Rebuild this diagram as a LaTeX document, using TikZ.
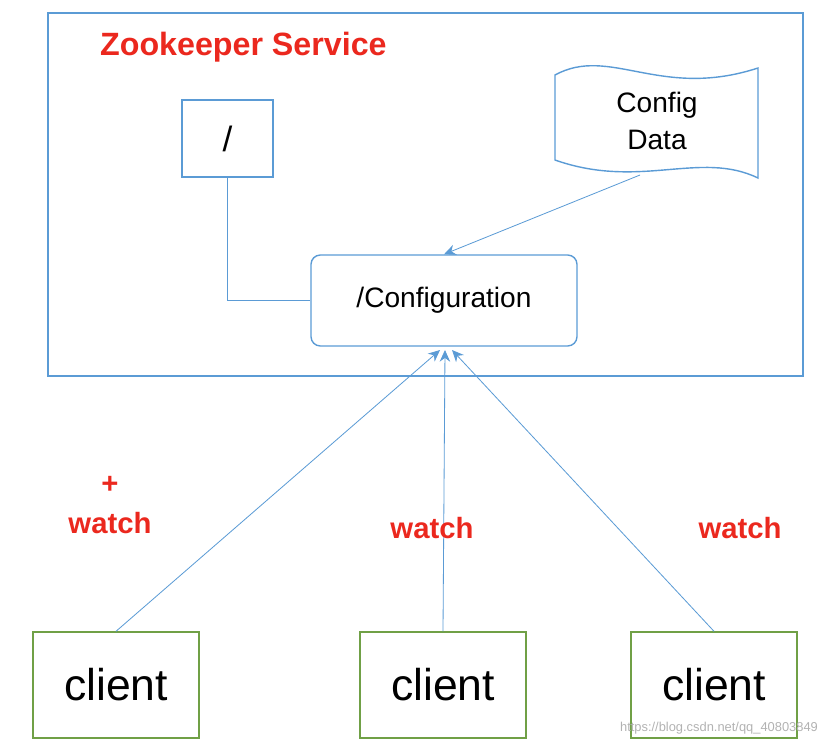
\documentclass[tikz,border=0pt]{standalone}
\usepackage{fontspec}
\setmainfont{Liberation Sans}
\usetikzlibrary{positioning, arrows.meta}
\definecolor{zkblue}{RGB}{91,155,213}
\definecolor{zkred}{RGB}{235,40,30}
\definecolor{zkgreen}{RGB}{112,160,70}
\tikzset{
  box/.style={draw=zkblue, line width=1.2pt, inner sep=0pt},
  cbox/.style={draw=zkgreen, line width=1.2pt, minimum width=166*0.03cm, minimum height=106*0.03cm, font=\fontsize{38}{44}\selectfont},
  lbl/.style={text=zkred, font=\bfseries\fontsize{25}{30}\selectfont},
  link/.style={draw=zkblue, line width=0.7pt},
}
\begin{document}
\begin{tikzpicture}[x=0.03cm, y=-0.03cm]
\useasboundingbox (0,0) rectangle (830,747);
\draw[zkblue, line width=1.2pt] (48,13) rectangle (803,376);
\node[lbl, anchor=west, font=\bfseries\fontsize{27.5}{32}\selectfont] (title) at (96,47) {Zookeeper Service};

\node[box, minimum width=91*0.03cm, minimum height=77*0.03cm, font=\fontsize{30}{36}\selectfont] (root) at (227.5,138.5) {/};
\node[box, rounded corners=8pt, minimum width=266*0.03cm, minimum height=91*0.03cm, font=\fontsize{24}{30}\selectfont] (conf) at (444,300.5) {/Configuration};

% config data store
\draw[zkblue, line width=1.2pt] (555,75) .. controls (610,45) and (660,100) .. (758,68)
  -- (758,178) .. controls (700,150) and (640,190) .. (555,160) -- cycle;
\node[font=\fontsize{24}{30}\selectfont, align=center] (data) at (657,121) {Config\\[2pt]Data};
\coordinate (dataout) at (640,175);

\draw[link] (root.south) |- (conf.west);
\draw[link, -{Stealth[length=10pt,width=9pt]}] (dataout) -- (conf.north);

\node[cbox] (c1) at (116,685) {client};
\node[cbox] (c2) at (443,685) {client};
\node[cbox] (c3) at (714,685) {client};

\coordinate (in1) at (440,350);
\coordinate (in2) at (445,350);
\coordinate (in3) at (452,350);
\draw[link, -{Stealth[length=10pt,width=9pt]}] (c1.north) -- (in1);
\draw[link, -{Stealth[length=10pt,width=9pt]}] (c2.north) -- (in2);
\draw[link, -{Stealth[length=10pt,width=9pt]}] (c3.north) -- (in3);

\node[lbl, align=center] (w1) at (110,505) {+\\[4pt]watch};
\node[lbl] (w2) at (432,528) {watch};
\node[lbl] (w3) at (740,528) {watch};
\node[text=gray!60, font=\fontsize{11}{13}\selectfont, anchor=east] (mark) at (822,728) {https://blog.csdn.net/qq\_40803849};
\end{tikzpicture}
\end{document}
